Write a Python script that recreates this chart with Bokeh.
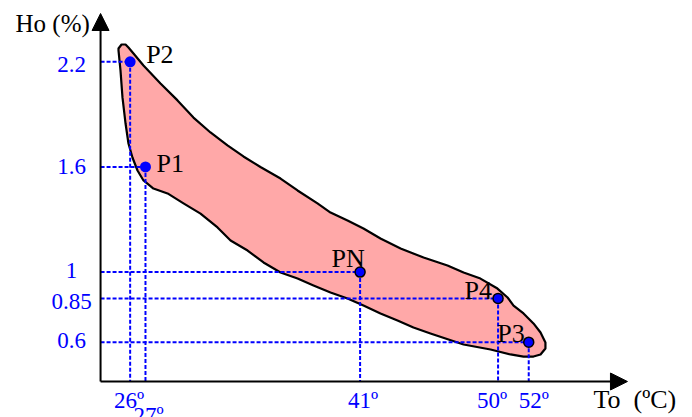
from bokeh.plotting import figure
from bokeh.models import Range1d, Arrow, NormalHead, ColumnDataSource
from bokeh.core.properties import value
from bokeh.embed import file_html
from bokeh.resources import INLINE

# ---------------- data ----------------
point_names = ["P2", "P1", "PN", "P4", "P3"]
temps = [26, 27, 41, 50, 52]            # To (ºC)
hums = [2.2, 1.6, 1.0, 0.85, 0.6]       # Ho (%)
x_tick_labels = ["26º", "27º", "41º", "50º", "52º"]
y_tick_labels = ["2.2", "1.6", "1", "0.85", "0.6"]

# outline of the shaded operating region (To, Ho)
region_x = [25.24, 25.44, 25.70, 25.89, 26.22, 26.87, 27.98, 29.09, 30.13, 31.24,
            32.35, 33.39, 34.50, 35.81, 36.92, 38.22, 39.07, 40.18, 41.22, 42.33,
            43.64, 45.14, 46.70, 47.75, 48.85, 49.96, 50.62, 51.01, 51.66, 52.31,
            52.77, 53.09, 53.09, 52.77, 52.31, 51.66,
            50.81, 49.51, 47.75, 45.59, 44.48, 43.44, 42.33, 41.22, 40.18, 39.07,
            37.96, 36.92, 35.81, 34.70, 33.66, 32.55, 31.70, 30.59, 29.48, 28.44,
            27.52, 26.87, 26.48, 26.15, 25.89, 25.70, 25.50, 25.37, 25.24]
region_y = [2.276, 2.299, 2.299, 2.282, 2.248, 2.179, 2.077, 1.980, 1.882, 1.797,
            1.723, 1.660, 1.600, 1.534, 1.466, 1.392, 1.340, 1.295, 1.249, 1.192,
            1.135, 1.083, 1.038, 0.998, 0.963, 0.906, 0.855, 0.809, 0.764, 0.707,
            0.655, 0.598, 0.564, 0.530, 0.518, 0.518,
            0.530, 0.558, 0.587, 0.650, 0.684, 0.724, 0.764, 0.809, 0.849, 0.884,
            0.924, 0.963, 0.998, 1.055, 1.123, 1.180, 1.255, 1.334, 1.392, 1.449,
            1.477, 1.523, 1.580, 1.654, 1.734, 1.848, 1.997, 2.151, 2.265]

# ---------------- layout ----------------
AXIS_X0, AXIS_Y0 = 24.07, 0.3755   # origin of drawn axes
AXIS_X1, AXIS_Y1 = 58.44, 2.476    # arrow tips

BLUE = "#0000FF"
FONT = value("Liberation Serif")
n = len(temps)

p = figure(width=692, height=417, output_backend="svg", toolbar_location=None,
           title=None, x_axis_type=None, y_axis_type=None,
           x_range=Range1d(17.543, 62.683), y_range=Range1d(0.1701, 2.5502),
           min_border=0, outline_line_color=None)
p.xgrid.visible = False
p.ygrid.visible = False

# shaded region
p.patch(region_x, region_y, fill_color="#FFA8A8", line_color="black",
        line_width=2.2, line_join="round")

# dashed guide lines
p.segment(x0=[AXIS_X0] * n, y0=hums, x1=temps, y1=hums,
          line_color=BLUE, line_width=2, line_dash="4 2")
p.segment(x0=temps, y0=hums, x1=temps, y1=[AXIS_Y0] * n,
          line_color=BLUE, line_width=2, line_dash="4 2")

# axes with arrows
p.add_layout(Arrow(x_start=AXIS_X0, y_start=AXIS_Y0, x_end=AXIS_X0, y_end=AXIS_Y1,
                   line_width=2, line_color="black",
                   end=NormalHead(size=17, fill_color="black", line_color="black")))
p.add_layout(Arrow(x_start=AXIS_X0, y_start=AXIS_Y0, x_end=AXIS_X1, y_end=AXIS_Y0,
                   line_width=2, line_color="black",
                   end=NormalHead(size=17, fill_color="black", line_color="black")))

# points
outline_cols = [BLUE, BLUE, "black", "black", "black"]
outline_w = [0, 0, 1.5, 1.5, 1.5]
sizes = [11, 11, 10, 10, 10]
src = ColumnDataSource(dict(x=temps, y=hums, name=point_names,
                            lc=outline_cols, lw=outline_w, s=sizes,
                            dx=[16, 11, -12, -6, -4], dy=[-7, -3, -14, -8, -9],
                            al=["left", "left", "center", "right", "right"]))
p.scatter("x", "y", source=src, size="s", fill_color=BLUE,
          line_color="lc", line_width="lw")

# point labels
p.text("x", "y", text="name", source=src, x_offset="dx", y_offset="dy",
       text_align="al", text_baseline="middle", text_font=FONT,
       text_font_size="26px", text_color="black")

# tick labels
p.text(x=temps, y=[AXIS_Y0] * n, text=x_tick_labels,
       x_offset=[-1, 3, 3, -6, 5], y_offset=[19, 34, 19, 19, 19],
       text_align="center", text_baseline="middle", text_font=FONT,
       text_font_size="23px", text_color=BLUE)
p.text(x=[AXIS_X0] * n, y=hums, text=y_tick_labels,
       x_offset=-29, y_offset=[3, 0, -2, 3, -2],
       text_align="center", text_baseline="middle", text_font=FONT,
       text_font_size="23px", text_color=BLUE)

# axis titles
p.text(x=[AXIS_X0], y=[AXIS_Y1], text=["Ho (%)"], x_offset=-85, y_offset=10,
       text_align="left", text_baseline="middle", text_font=FONT,
       text_font_size="25px", text_color="black")
p.text(x=[AXIS_X1], y=[AXIS_Y0], text=["To \u00a0(ºC)"], x_offset=-34, y_offset=18,
       text_align="left", text_baseline="middle", text_font=FONT,
       text_font_size="26px", text_color="black")

open("out.html", "w").write(file_html(p, INLINE))
